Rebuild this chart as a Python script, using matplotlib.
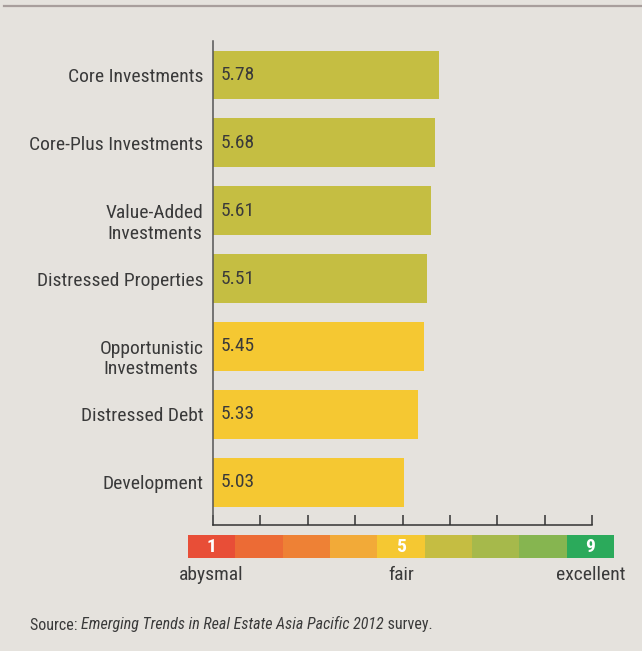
import matplotlib.pyplot as plt
import matplotlib.lines as mlines
import matplotlib.transforms as mtransforms
import numpy as np

plt.rcParams['font.family'] = ['Roboto Condensed', 'Fira Sans Condensed', 'DejaVu Sans']

# data
categorias = ["Core Investments", "Core-Plus Investments", "Value-Added\nInvestments",
              "Distressed Properties", "Opportunistic\nInvestments", "Distressed Debt",
              "Development"]
valores = [5.78, 5.68, 5.61, 5.51, 5.45, 5.33, 5.03]
escala = [1, 2, 3, 4, 5, 6, 7, 8, 9]
escala_colores = ["#E84E37", "#EC6B35", "#EE8135", "#F2AA38", "#F5C832",
                  "#C5BD42", "#A6B94B", "#86B550", "#2BAA5B"]
escala_textos = {1: "abysmal", 5: "fair", 9: "excellent"}

fondo = "#E5E2DD"
texto = "#3A3A3A"
olivo = "#C5BE42"
amarillo = "#F5C832"

fig = plt.figure(figsize=(6.42, 6.51), dpi=100, facecolor=fondo)

# linea gris arriba
fig.add_artist(mlines.Line2D([4 / 642, 1], [1 - 5.5 / 651] * 2, color="#A89E9C", lw=1.6))

ax = fig.add_axes([213 / 642, 126 / 651, 379 / 642, 484 / 651])
ax.set_facecolor(fondo)
y = np.arange(len(valores))
colores = [olivo if v >= 5.5 else amarillo for v in valores]
ax.barh(y, [v - 1 for v in valores], left=1, height=0.72, color=colores, zorder=2)
for yi, v in zip(y, valores):
    ax.text(1.17, yi, f"{v:.2f}", va="center", ha="left", fontsize=14, color=texto, zorder=3)

ax.set_xlim(1, 9)
ax.set_ylim(6.63, -0.5)
ax.set_xticks(escala)
ax.set_xticklabels([])
ax.set_yticks(y)
ax.set_yticklabels(categorias, fontsize=14, color=texto, multialignment="center",
                   linespacing=1.15)
ax.tick_params(axis="y", length=0, pad=7)
ax.tick_params(axis="x", direction="in", length=7, width=1.1, color="#333333")
# las etiquetas de dos lineas van un poco mas abajo
bajar = mtransforms.ScaledTranslation(0, -7 / 72, fig.dpi_scale_trans)
for lab in ax.get_yticklabels():
    if "\n" in lab.get_text():
        lab.set_transform(lab.get_transform() + bajar)
for s in ["top", "right"]:
    ax.spines[s].set_visible(False)
ax.spines["left"].set_color("#555555")
ax.spines["bottom"].set_color("#333333")
ax.spines["left"].set_linewidth(1.1)
ax.spines["bottom"].set_linewidth(1.1)

# escala de colores
ax2 = fig.add_axes([188 / 642, 93 / 651, 426 / 642, 23 / 651])
ax2.set_facecolor(fondo)
ax2.bar(escala, [1] * len(escala), width=1.0, color=escala_colores)
ax2.set_xlim(0.5, 9.5)
ax2.set_ylim(0, 1)
ax2.axis("off")
for k, t in escala_textos.items():
    ax2.text(k, 0.5, str(k), ha="center", va="center", color="white", fontsize=14,
             fontweight="bold")
    ax2.text(k, -0.75, t, ha="center", va="center", color=texto, fontsize=14)

# fuente
t1 = fig.text(30 / 642, 1 - 625 / 651, "Source: ", ha="left", va="center", fontsize=11.5, color=texto)
a2 = fig.add_artist(plt.Annotation("Emerging Trends in Real Estate Asia Pacific 2012",
                                   xy=(1, 0), xycoords=t1, va="bottom", ha="left",
                                   fontsize=11.5, color=texto, style="italic"))
fig.add_artist(plt.Annotation(" survey.", xy=(1, 0), xycoords=a2, va="bottom", ha="left",
                              fontsize=11.5, color=texto))

fig.savefig("out.png", dpi=100, facecolor=fondo)
